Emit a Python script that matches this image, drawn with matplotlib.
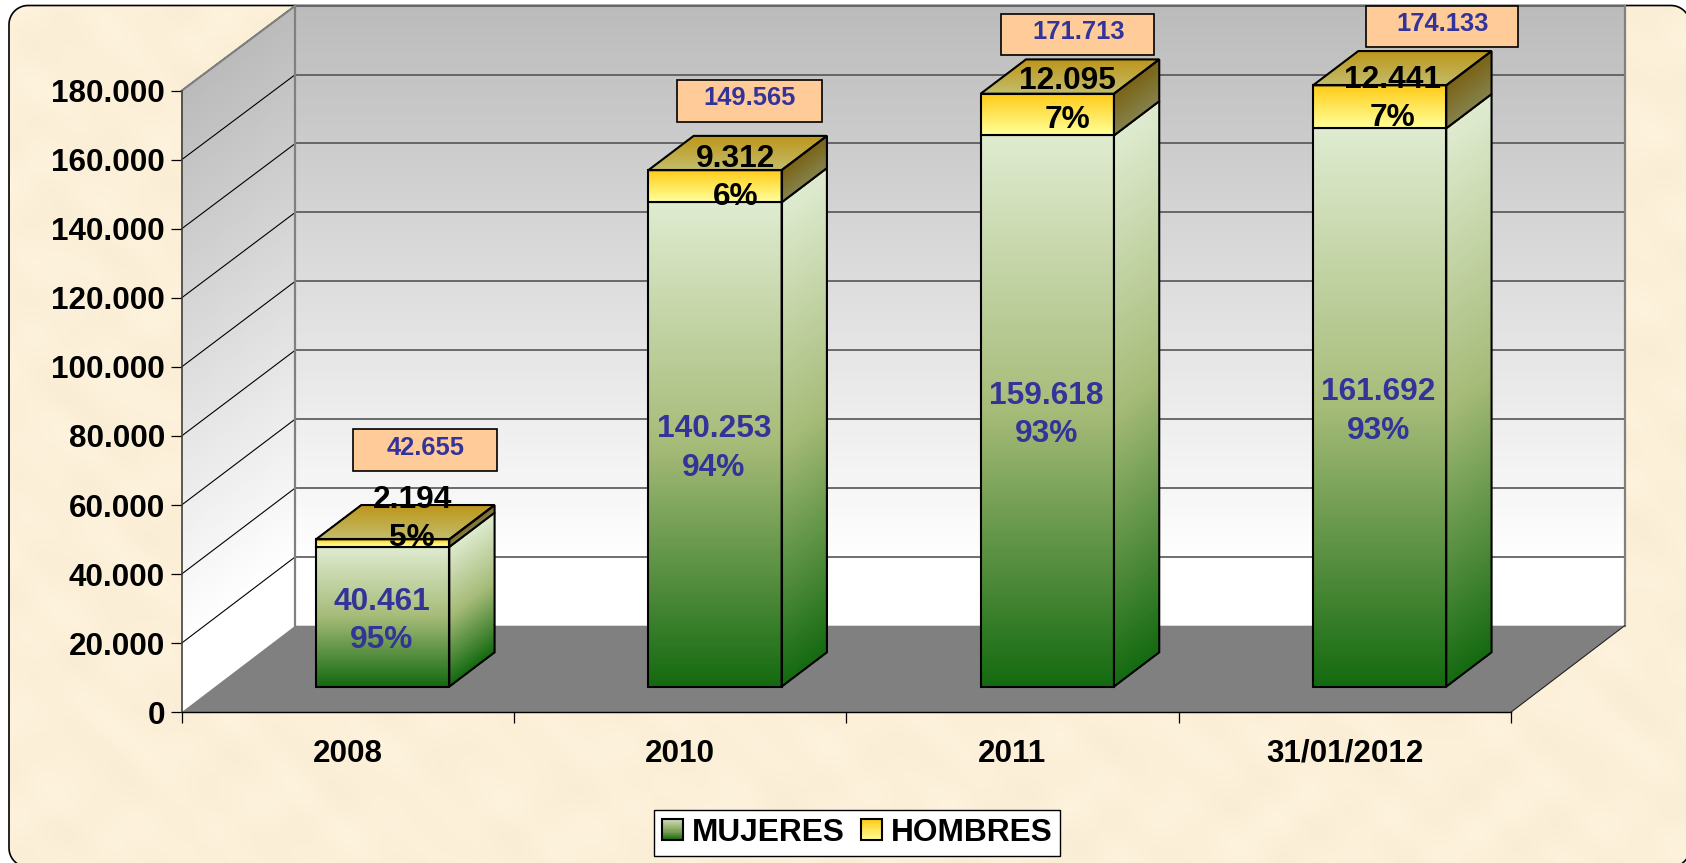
import numpy as np
import matplotlib
matplotlib.use("Agg")
import matplotlib.pyplot as plt
from matplotlib.collections import PolyCollection
from matplotlib.colors import LinearSegmentedColormap
from matplotlib.legend_handler import HandlerBase
from matplotlib.patches import Patch, Polygon, Rectangle
from matplotlib.ticker import FuncFormatter

plt.rcParams["font.family"] = ["Liberation Sans", "DejaVu Sans"]
plt.rcParams["font.weight"] = "bold"

# datos
years = ["2008", "2010", "2011", "31/01/2012"]
mujeres = [40461, 140253, 159618, 161692]
hombres = [2194, 9312, 12095, 12441]
totales = [42655, 149565, 171713, 174133]
pct_mujeres = ["95%", "94%", "93%", "93%"]
pct_hombres = ["5%", "6%", "7%", "7%"]
y_ticks = list(range(0, 180001, 20000))

# geometria en pixeles de la imagen
W, H = 1686, 863
AX_L, AX_R, AX_T, AX_B = 181.6, 1510.9, 90.7, 712.2
PX_X = 4 / (AX_R - AX_L)
PX_Y = 180000 / (AX_B - AX_T)
WALL_X, WALL_Y = 113.7 * PX_X, 86.5 * PX_Y   # profundidad del piso
BACK_SCALE = 620 / 621.5                      # la pared del fondo es un poco mas baja
BAR_X, BAR_Y = 45.3 * PX_X, 34.3 * PX_Y      # profundidad de la barra
OFF_X, OFF_Y = 34.9 * PX_X, 25.6 * PX_Y      # frente de la barra sobre el piso
BAR_W = 0.401

# posicion de las etiquetas, en pixeles
box_dx = [42.6, 34.5, 30.5, 62.7]
box_dy = [89.3, 69.2, 59.2, 58.8]
box_w = [144.3, 144.4, 153.0, 152.3]
box_h = 41.4
hom_dx = [29.5, 21.0, 20.0, 12.5]
hom_dy = [24.0, 8.0, 14.0, 8.0]

# colores
WALL = [(0, "#BBBBBB"), (0.9, "#FFFFFF"), (1, "#FFFFFF")]
GREEN = ["#DFEBD0", "#A6BB78", "#146A10"]
YELLOW = ["#FFCA14", "#FFFF99"]
YELLOW_SIDE = ["#7A6214", "#84814A"]
YELLOW_TOP = ["#BC9518", "#C3BC6A"]
BLUE = "#333399"


def back(v):
    # altura de un valor sobre la pared del fondo
    return WALL_Y + v * BACK_SCALE


def shade(ax, tl, tr, br, bl, stops, n=220, zorder=2):
    # cuadrilatero con degradado de arriba hacia abajo, hecho de franjas
    cmap = LinearSegmentedColormap.from_list("g", stops)
    tl, tr, br, bl = map(np.array, (tl, tr, br, bl))
    t = np.linspace(0, 1, n + 1)
    polys = []
    for a, b in zip(t[:-1], t[1:]):
        polys.append([tl + (bl - tl) * a, tr + (br - tr) * a,
                      tr + (br - tr) * b, tl + (bl - tl) * b])
    pc = PolyCollection(polys, facecolors=cmap(t[:-1]), edgecolors="face", linewidths=0.3,
                        antialiaseds=False, clip_on=False, zorder=zorder)
    ax.add_collection(pc, autolim=False)


def outline(ax, pts, zorder):
    ax.add_patch(Polygon(pts, closed=True, fill=False, edgecolor="black", lw=1.5,
                         joinstyle="miter", clip_on=False, zorder=zorder))


def bar3d(ax, x, y0, y1, front, side, top=None, zorder=4):
    x0, x1 = x - BAR_W / 2 + OFF_X, x + BAR_W / 2 + OFF_X
    b0, b1 = y0 + OFF_Y, y1 + OFF_Y
    f = [(x0, b1), (x1, b1), (x1, b0), (x0, b0)]
    s = [(x1, b1), (x1 + BAR_X, b1 + BAR_Y), (x1 + BAR_X, b0 + BAR_Y), (x1, b0)]
    shade(ax, *f, front, zorder=zorder)
    # el lado se corta en franjas paralelas a su borde superior
    shade(ax, s[0], s[1], s[2], s[3], side, zorder=zorder)
    outline(ax, f, zorder + 0.5)
    outline(ax, s, zorder + 0.5)
    if top is not None:
        t = [(x0 + BAR_X, b1 + BAR_Y), (x1 + BAR_X, b1 + BAR_Y), (x1, b1), (x0, b1)]
        shade(ax, *t, top, n=60, zorder=zorder)
        outline(ax, t, zorder + 0.5)


def round_rect(x0, y0, x1, y1, r):
    # rectangulo redondeado como poligono, en coordenadas con y hacia abajo
    a = np.linspace(0, np.pi / 2, 16)
    pts = []
    for cx, cy, start in [(x1 - r, y0 + r, -np.pi / 2), (x1 - r, y1 - r, 0),
                          (x0 + r, y1 - r, np.pi / 2), (x0 + r, y0 + r, np.pi)]:
        pts.extend(zip(cx + r * np.cos(start + a), cy + r * np.sin(start + a)))
    return pts


class GradientHandler(HandlerBase):
    def __init__(self, stops):
        super().__init__()
        self.stops = stops

    def create_artists(self, legend, orig_handle, xd, yd, width, height, fontsize, trans):
        cmap = LinearSegmentedColormap.from_list("g", self.stops)
        n = 20
        arts = []
        for i in range(n):
            arts.append(Rectangle((-xd, -yd + height * (1 - (i + 1) / n)), width, height / n + 0.2,
                                  facecolor=cmap(i / (n - 1)), edgecolor="none", transform=trans))
        arts.append(Rectangle((-xd, -yd), width, height, fill=False, edgecolor="black",
                              lw=1.5, transform=trans))
        return arts


fig = plt.figure(figsize=(W / 100, H / 100), dpi=100, facecolor="white")

# fondo: papel crema con borde redondeado
bg = fig.add_axes([0, 0, 1, 1], zorder=0)
bg.axis("off")
frame_pts = round_rect(9, 5.5, 1690, 867, 19)
frame = Polygon(frame_pts, closed=True, facecolor="#FCF0D8", edgecolor="none", zorder=1)
bg.add_patch(frame)
xx, yy = np.meshgrid(np.arange(W // 2), np.arange(H // 2))
tex = (np.sin(xx / 9 + np.sin(yy / 13) * 2) + np.sin(yy / 7 + np.sin(xx / 17) * 2)
       + 0.6 * np.sin((xx - yy) / 5))
base = np.array([252, 240, 217]) / 255
amp = np.array([0.6, 1.0, 1.6]) / 255
img = np.clip(base + tex[..., None] * amp, 0, 1)
im = bg.imshow(img, extent=(0, W, H, 0), aspect="auto", interpolation="bilinear", zorder=1.5)
im.set_clip_path(frame)
bg.set_xlim(0, W)
bg.set_ylim(H, 0)
bg.add_patch(Polygon(frame_pts, closed=True, fill=False, edgecolor="black", lw=1.2, zorder=2))

ax = fig.add_axes([AX_L / W, 1 - AX_B / H, (AX_R - AX_L) / W, (AX_B - AX_T) / H], zorder=1)
ax.patch.set_visible(False)
ax.set_xlim(0, 4)
ax.set_ylim(0, 180000)

# paredes y piso
shade(ax, (WALL_X, back(180000)), (4 + WALL_X, back(180000)), (4 + WALL_X, back(0)), (WALL_X, back(0)),
      WALL, n=300, zorder=1)
shade(ax, (0, 180000), (WALL_X, back(180000)), (WALL_X, back(0)), (0, 0), WALL, n=300, zorder=1)
ax.add_patch(Polygon([(0, 0), (4, 0), (4 + WALL_X, back(0)), (WALL_X, back(0))], closed=True,
                     facecolor="#808080", edgecolor="none", clip_on=False, zorder=1.5))

# lineas de la grilla
for v in y_ticks[1:]:
    ax.plot([WALL_X, 4 + WALL_X], [back(v), back(v)], color="#555555", lw=1.2, clip_on=False, zorder=2)
    ax.plot([0, WALL_X], [v, back(v)], color="black", lw=0.8, clip_on=False, zorder=2)
ax.plot([0, WALL_X], [180000, back(180000)], color="#808080", lw=1.5, clip_on=False, zorder=2.1)
ax.plot([WALL_X, WALL_X], [back(0), back(180000)], color="#808080", lw=1.6, clip_on=False, zorder=2.1)
ax.plot([4 + WALL_X, 4 + WALL_X], [back(0), back(180000)], color="#808080", lw=1.6, clip_on=False, zorder=2.1)
ax.plot([4, 4 + WALL_X], [0, back(0)], color="#222222", lw=0.8, clip_on=False, zorder=2.1)

# barras
for i in range(len(years)):
    x = i + 0.5
    bar3d(ax, x, 0, mujeres[i], GREEN, GREEN, zorder=4)
    bar3d(ax, x, mujeres[i], totales[i], YELLOW, YELLOW_SIDE, top=YELLOW_TOP, zorder=5)


# etiquetas
def fmt(v):
    return f"{int(v):,}".replace(",", ".")


for i in range(len(years)):
    x = i + 0.5 + OFF_X
    ax.annotate(f"{fmt(mujeres[i])}\n{pct_mujeres[i]}", xy=(x, OFF_Y + mujeres[i] / 2), xytext=(-1, -4),
                textcoords="offset pixels", ha="center", va="center", fontsize=22.8, color=BLUE,
                linespacing=1.36, annotation_clip=False, zorder=8)
    ax.annotate(f"{fmt(hombres[i])}\n{pct_hombres[i]}", xy=(x, OFF_Y + mujeres[i] + hombres[i] / 2),
                xytext=(hom_dx[i], hom_dy[i]), textcoords="offset pixels", ha="center", va="center",
                fontsize=22.8, color="black", linespacing=1.36, annotation_clip=False, zorder=8)
    cx = x + box_dx[i] * PX_X
    cy = OFF_Y + totales[i] + box_dy[i] * PX_Y
    ax.add_patch(Rectangle((cx - box_w[i] / 2 * PX_X, cy - box_h / 2 * PX_Y), box_w[i] * PX_X, box_h * PX_Y,
                           facecolor="#FFCC99", edgecolor="black", lw=1.2, clip_on=False, zorder=7))
    ax.annotate(fmt(totales[i]), xy=(cx, cy), xytext=(0.5, 2.5), textcoords="offset pixels", ha="center",
                va="center", fontsize=18.4, color=BLUE, annotation_clip=False, zorder=8)

# ejes
for side in ("top", "right"):
    ax.spines[side].set_visible(False)
ax.spines["left"].set_color("#404040")
ax.spines["left"].set_linewidth(1.2)
ax.spines["bottom"].set_color("black")
ax.spines["bottom"].set_linewidth(1.0)
ax.spines["left"].set_zorder(3)
ax.spines["bottom"].set_zorder(3)
ax.set_yticks(y_ticks)
ax.yaxis.set_major_formatter(FuncFormatter(lambda v, p: fmt(v)))
ax.tick_params(axis="y", length=8, width=0.9, pad=4, labelsize=22.6)
ax.set_xticks(range(5))
ax.set_xticklabels([])
ax.set_xticks([i + 0.5 for i in range(4)], labels=years, minor=True)
ax.tick_params(axis="x", which="major", length=8, width=0.9)
ax.tick_params(axis="x", which="minor", length=0, pad=19, labelsize=22.6)
for t in ax.get_yticklabels() + ax.get_xticklabels(minor=True):
    t.set_fontweight("bold")

# leyenda
h_m, h_h = Patch(label="MUJERES"), Patch(label="HOMBRES")
leg = fig.legend(handles=[h_m, h_h], labels=["MUJERES", "HOMBRES"], ncol=2, loc="center",
                 bbox_to_anchor=(857.3 / W, 1 - 832.8 / H), fontsize=22.8,
                 handler_map={h_m: GradientHandler(["#C9DAB6", "#8FAB66", "#146A10"]),
                              h_h: GradientHandler(YELLOW)},
                 handlelength=0.667, handleheight=0.667, handletextpad=0.28, columnspacing=0.5,
                 borderpad=0.25, borderaxespad=0, fancybox=False, framealpha=1,
                 facecolor="white", edgecolor="black")
leg.get_frame().set_linewidth(1.0)

fig.savefig("out.png", dpi=100, facecolor="white")
